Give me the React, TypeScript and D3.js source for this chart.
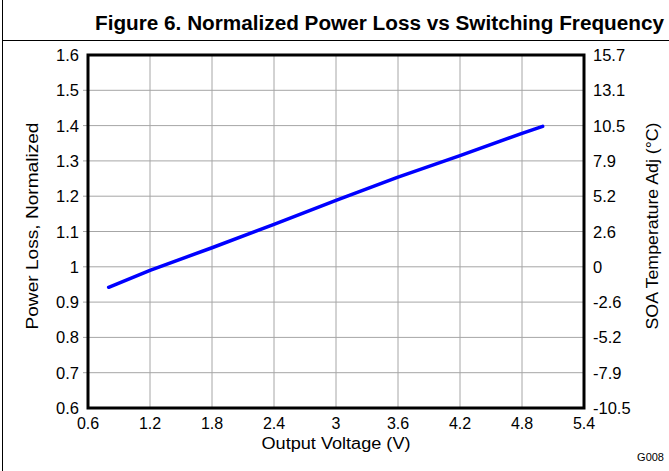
import React, { useEffect, useRef } from "react";
import * as d3 from "d3";

// values
const voltage = [0.8, 1.2, 1.8, 2.4, 3.0, 3.6, 4.2, 4.8, 5.0];
const powerLoss = [0.942, 0.99, 1.054, 1.12, 1.188, 1.254, 1.315, 1.378, 1.398];
const xTicks = [0.6, 1.2, 1.8, 2.4, 3, 3.6, 4.2, 4.8, 5.4];
const yTicks = [0.6, 0.7, 0.8, 0.9, 1, 1.1, 1.2, 1.3, 1.4, 1.5, 1.6];
const rightTicks = ["-10.5", "-7.9", "-5.2", "-2.6", "0", "2.6", "5.2", "7.9", "10.5", "13.1", "15.7"];

const W = 669;
const H = 471;
const font = "Arial, 'Liberation Sans', sans-serif";

const App = () => {
  const ref = useRef<SVGSVGElement>(null);

  useEffect(() => {
    const svg = d3.select(ref.current);
    svg.selectAll("*").remove();

    const margin = { top: 55, right: 85, bottom: 63, left: 88 };
    const innerW = W - margin.left - margin.right;
    const innerH = H - margin.top - margin.bottom;

    const x = d3.scaleLinear().domain([0.6, 5.4]).range([0, innerW]);
    const y = d3.scaleLinear().domain([0.6, 1.6]).range([innerH, 0]);

    svg.append("rect").attr("width", W).attr("height", H).attr("fill", "white");

    // outer frame + title bar
    svg.append("line").attr("x1", 2.5).attr("x2", 2.5).attr("y1", 0).attr("y2", H)
      .attr("stroke", "black").attr("stroke-width", 1);
    svg.append("line").attr("x1", 2).attr("x2", W).attr("y1", 40.5).attr("y2", 40.5)
      .attr("stroke", "black").attr("stroke-width", 1);
    svg.append("text")
      .attr("x", 95).attr("y", 30)
      .attr("textLength", 569).attr("lengthAdjust", "spacingAndGlyphs")
      .attr("font-family", font).attr("font-weight", "bold").attr("font-size", 20)
      .text("Figure 6. Normalized Power Loss vs Switching Frequency");

    const g = svg.append("g").attr("transform", `translate(${margin.left},${margin.top})`);

    // grid
    g.selectAll(".vgrid").data(xTicks.slice(1, -1)).join("line")
      .attr("x1", (d) => x(d)).attr("x2", (d) => x(d))
      .attr("y1", 0).attr("y2", innerH)
      .attr("stroke", "#a6a6a6").attr("stroke-width", 1);
    g.selectAll(".hgrid").data(yTicks.slice(1, -1)).join("line")
      .attr("x1", -5).attr("x2", innerW)
      .attr("y1", (d) => y(d)).attr("y2", (d) => y(d))
      .attr("stroke", "#a6a6a6").attr("stroke-width", 1);

    // left axis labels
    g.selectAll(".ylab").data(yTicks).join("text")
      .attr("x", -9).attr("y", (d) => y(d) + 6)
      .attr("text-anchor", "end")
      .attr("font-family", font).attr("font-size", 16.5)
      .text((d) => String(d));

    // right axis labels
    g.selectAll(".rlab").data(rightTicks).join("text")
      .attr("x", innerW + 9).attr("y", (d, i) => y(yTicks[i]) + 6)
      .attr("font-family", font).attr("font-size", 16.5)
      .text((d) => d);

    // bottom labels
    g.selectAll(".xlab").data(xTicks).join("text")
      .attr("x", (d) => x(d)).attr("y", innerH + 21)
      .attr("text-anchor", "middle")
      .attr("font-family", font).attr("font-size", 16)
      .text((d) => String(d));

    // curve
    const pts = voltage.map((v, i) => [v, powerLoss[i]] as [number, number]);
    const ln = d3.line<[number, number]>()
      .x((d) => x(d[0]))
      .y((d) => y(d[1]));
    g.append("path")
      .attr("d", ln(pts))
      .attr("fill", "none")
      .attr("stroke", "#0000ff")
      .attr("stroke-width", 3.5)
      .attr("stroke-linecap", "round")
      .attr("stroke-linejoin", "round");

    // plot frame
    g.append("rect")
      .attr("width", innerW).attr("height", innerH)
      .attr("fill", "none").attr("stroke", "black").attr("stroke-width", 3);

    // axis titles
    svg.append("text")
      .attr("x", margin.left + innerW / 2).attr("y", 449)
      .attr("text-anchor", "middle")
      .attr("textLength", 149).attr("lengthAdjust", "spacingAndGlyphs")
      .attr("font-family", font).attr("font-size", 16)
      .text("Output Voltage (V)");
    svg.append("text")
      .attr("transform", `translate(38,226) rotate(-90)`)
      .attr("text-anchor", "middle")
      .attr("textLength", 207).attr("lengthAdjust", "spacingAndGlyphs")
      .attr("font-family", font).attr("font-size", 16)
      .text("Power Loss, Normalized");
    svg.append("text")
      .attr("transform", `translate(658,226) rotate(-90)`)
      .attr("text-anchor", "middle")
      .attr("textLength", 207).attr("lengthAdjust", "spacingAndGlyphs")
      .attr("font-family", font).attr("font-size", 16)
      .text("SOA Temperature Adj (°C)");

    svg.append("text")
      .attr("x", 664).attr("y", 461)
      .attr("text-anchor", "end")
      .attr("font-family", font).attr("font-size", 11)
      .text("G008");
  }, []);

  return <svg ref={ref} width={W} height={H} style={{ display: "block", position: "absolute", left: 0, top: 0 }} />;
};

export default App;
